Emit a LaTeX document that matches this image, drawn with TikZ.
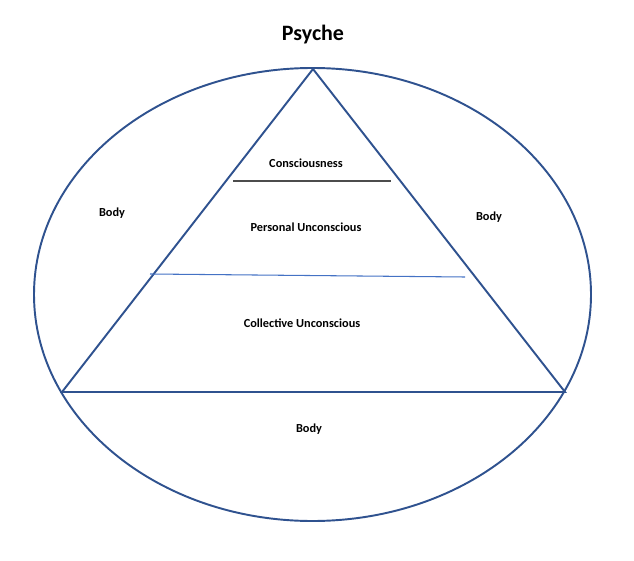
\documentclass[tikz,border=0pt]{standalone}
\usepackage{fontspec}
\setmainfont{Carlito}
\definecolor{psyblue}{RGB}{47,82,143}
\definecolor{lineblue}{RGB}{68,114,196}
\tikzset{
  label/.style={font=\fontsize{7}{8}\selectfont\bfseries},
  outline/.style={draw=psyblue, line width=1.1pt}
}
\begin{document}
\begin{tikzpicture}[x=0.02cm, y=-0.02cm]
                \useasboundingbox (0, 0) rectangle (634, 560);
                % Ellipse and triangle
                \draw [outline] (312.5, 294.5) ellipse (278.5 and 226.5);
                \coordinate (apex) at (313, 69);
                \coordinate (left) at (62, 392);
                \coordinate (right) at (565, 392);
                \draw [outline] (apex) -- (left) -- (right) -- cycle;
                % Layers
                \coordinate (c1) at (233, 181);
                \coordinate (c2) at (391, 181);
                \coordinate (p1) at (150, 274);
                \coordinate (p2) at (465, 277);
                \draw [black!70, line width=0.6pt] (c1) -- (c2);
                \draw [lineblue, line width=0.6pt] (p1) -- (p2);
                % Labels
                \node [font=\fontsize{12.5}{14}\selectfont\bfseries] (title) at (313, 35) {Psyche};
                \node [label] (conscious) at (306, 163) {Consciousness};
                \node [label] (personal) at (306, 227) {Personal Unconscious};
                \node [label] (collective) at (302, 323) {Collective Unconscious};
                \node [label] (bodyleft) at (112, 213) {Body};
                \node [label] (bodyright) at (489, 217) {Body};
                \node [label] (bodybottom) at (309, 429) {Body};
\end{tikzpicture}
\end{document}
